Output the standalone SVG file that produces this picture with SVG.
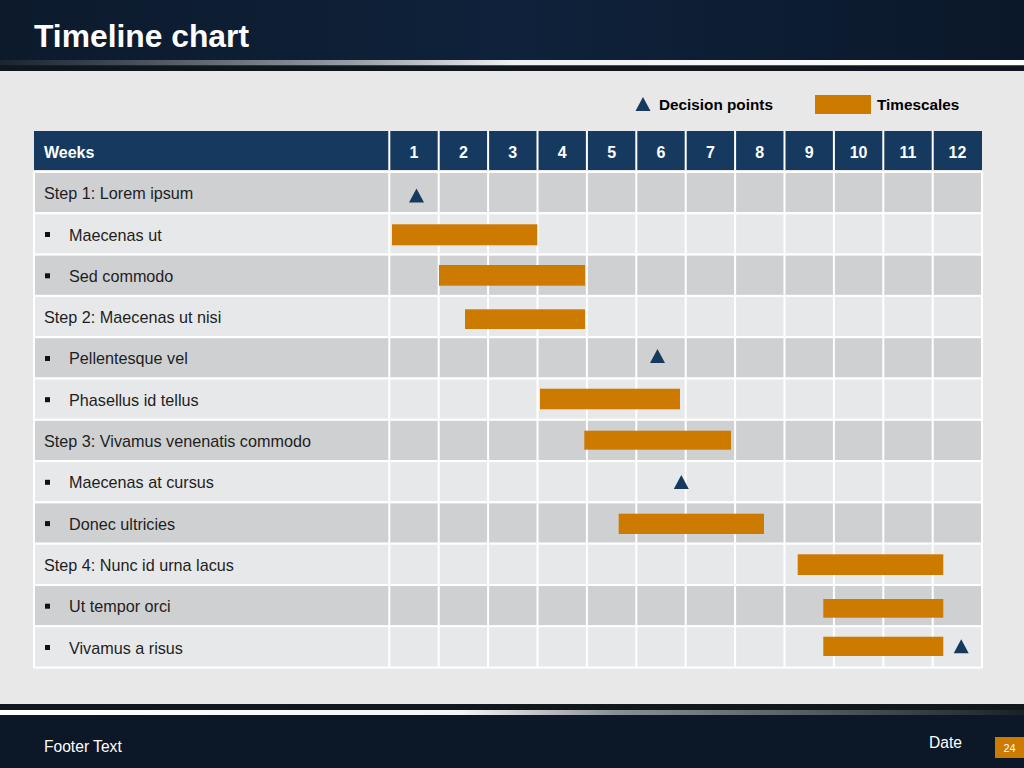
<svg xmlns="http://www.w3.org/2000/svg" width="1024" height="768" viewBox="0 0 1024 768">
<defs>
<linearGradient id="hdr" x1="0" y1="0" x2="1" y2="0">
<stop offset="0" stop-color="#0c1a2c"/><stop offset="0.5" stop-color="#0f223b"/><stop offset="1" stop-color="#0b1829"/>
</linearGradient>
<linearGradient id="line1" x1="0" y1="0" x2="1" y2="0">
<stop offset="0" stop-color="#1a2330"/><stop offset="0.1" stop-color="#3a4350"/><stop offset="0.35" stop-color="#9aa0a8"/><stop offset="0.5" stop-color="#eef0f2"/><stop offset="1" stop-color="#ffffff"/>
</linearGradient>
<linearGradient id="line2" x1="0" y1="0" x2="1" y2="0">
<stop offset="0" stop-color="#ffffff"/><stop offset="0.45" stop-color="#f4f4f4"/><stop offset="0.6" stop-color="#8a9098"/><stop offset="0.95" stop-color="#2a3038"/><stop offset="1" stop-color="#1a2028"/>
</linearGradient>
<polygon id="tri" points="0,-7 7.5,7 -7.5,7"/>
</defs>
<style>
.title{font-family:"Liberation Sans",Arial,sans-serif;font-weight:bold;font-size:31.8px;fill:#ffffff}
.leg{font-family:"Liberation Sans",Arial,sans-serif;font-weight:bold;font-size:15.3px;fill:#000000}
.hd{font-family:"Liberation Sans",Arial,sans-serif;font-weight:bold;font-size:16px;fill:#ffffff}
.lbl{font-family:"Liberation Sans",Arial,sans-serif;font-size:16.2px;fill:#1e1e1e}
.foot{font-family:"Liberation Sans",Arial,sans-serif;font-size:15.6px;fill:#ffffff}
.dark{fill:#cfd0d2}
.light{fill:#e7e8e9}
.cell{stroke:#ffffff;stroke-width:2}
.bar{fill:#cc7a00}
.dp{fill:#153a5e}
.grid{stroke:#ffffff;stroke-width:2}
</style>
<rect x="0" y="0" width="1024" height="768" fill="#e8e8e8"/>
<g id="header">
<rect x="0" y="0" width="1024" height="71" fill="url(#hdr)"/>
<rect x="0" y="60" width="1024" height="5.5" fill="url(#line1)"/>
<rect x="0" y="65.5" width="1024" height="5.5" fill="#10161e"/>
<text class="title" x="34" y="47">Timeline chart</text>
</g>
<g id="legend">
<use href="#tri" x="643" y="104" class="dp"/>
<text class="leg" x="659" y="110">Decision points</text>
<rect x="815" y="95" width="56" height="19" class="bar"/>
<text class="leg" x="877" y="110">Timescales</text>
</g>
<g id="table-header">
<rect x="34" y="131" width="948" height="39" fill="#163a5f"/>
<g class="grid">
<line x1="389.3" y1="131" x2="389.3" y2="170"/><line x1="438.7" y1="131" x2="438.7" y2="170"/><line x1="488.1" y1="131" x2="488.1" y2="170"/><line x1="537.5" y1="131" x2="537.5" y2="170"/><line x1="586.9" y1="131" x2="586.9" y2="170"/><line x1="636.3" y1="131" x2="636.3" y2="170"/><line x1="685.7" y1="131" x2="685.7" y2="170"/><line x1="735.1" y1="131" x2="735.1" y2="170"/><line x1="784.5" y1="131" x2="784.5" y2="170"/><line x1="833.9" y1="131" x2="833.9" y2="170"/><line x1="883.3" y1="131" x2="883.3" y2="170"/><line x1="932.7" y1="131" x2="932.7" y2="170"/>
</g>
<text class="hd" x="44" y="158">Weeks</text>
<g class="hd" text-anchor="middle">
<text x="414" y="158">1</text><text x="463.4" y="158">2</text><text x="512.8" y="158">3</text><text x="562.2" y="158">4</text><text x="611.6" y="158">5</text><text x="661" y="158">6</text><text x="710.4" y="158">7</text><text x="759.8" y="158">8</text><text x="809.2" y="158">9</text><text x="858.6" y="158">10</text><text x="908" y="158">11</text><text x="957.4" y="158">12</text>
</g>
</g>
<g id="rows">
<rect class="dark cell" x="34" y="172" width="948" height="41.3"/>
<rect class="light cell" x="34" y="213.3" width="948" height="41.3"/>
<rect class="dark cell" x="34" y="254.6" width="948" height="41.3"/>
<rect class="light cell" x="34" y="295.9" width="948" height="41.3"/>
<rect class="dark cell" x="34" y="337.2" width="948" height="41.3"/>
<rect class="light cell" x="34" y="378.5" width="948" height="41.3"/>
<rect class="dark cell" x="34" y="419.8" width="948" height="41.3"/>
<rect class="light cell" x="34" y="461.1" width="948" height="41.3"/>
<rect class="dark cell" x="34" y="502.4" width="948" height="41.3"/>
<rect class="light cell" x="34" y="543.7" width="948" height="41.3"/>
<rect class="dark cell" x="34" y="585" width="948" height="41.3"/>
<rect class="light cell" x="34" y="626.3" width="948" height="41.3"/>
<g class="grid">
<line x1="389.3" y1="172" x2="389.3" y2="667.6"/><line x1="438.7" y1="172" x2="438.7" y2="667.6"/><line x1="488.1" y1="172" x2="488.1" y2="667.6"/><line x1="537.5" y1="172" x2="537.5" y2="667.6"/><line x1="586.9" y1="172" x2="586.9" y2="667.6"/><line x1="636.3" y1="172" x2="636.3" y2="667.6"/><line x1="685.7" y1="172" x2="685.7" y2="667.6"/><line x1="735.1" y1="172" x2="735.1" y2="667.6"/><line x1="784.5" y1="172" x2="784.5" y2="667.6"/><line x1="833.9" y1="172" x2="833.9" y2="667.6"/><line x1="883.3" y1="172" x2="883.3" y2="667.6"/><line x1="932.7" y1="172" x2="932.7" y2="667.6"/>
</g>
</g>
<g id="labels">
<g id="row1"><text class="lbl" x="44" y="199">Step 1: Lorem ipsum</text></g>
<g id="row2"><rect x="45" y="232" width="5" height="5" fill="#111"/><text class="lbl" x="69" y="240.5">Maecenas ut</text></g>
<g id="row3"><rect x="45" y="273.3" width="5" height="5" fill="#111"/><text class="lbl" x="69" y="281.8">Sed commodo</text></g>
<g id="row4"><text class="lbl" x="44" y="323">Step 2: Maecenas ut nisi</text></g>
<g id="row5"><rect x="45" y="356" width="5" height="5" fill="#111"/><text class="lbl" x="69" y="364.4">Pellentesque vel</text></g>
<g id="row6"><rect x="45" y="397.2" width="5" height="5" fill="#111"/><text class="lbl" x="69" y="405.7">Phasellus id tellus</text></g>
<g id="row7"><text class="lbl" x="44" y="447">Step 3: Vivamus venenatis commodo</text></g>
<g id="row8"><rect x="45" y="479.8" width="5" height="5" fill="#111"/><text class="lbl" x="69" y="488.3">Maecenas at cursus</text></g>
<g id="row9"><rect x="45" y="521.1" width="5" height="5" fill="#111"/><text class="lbl" x="69" y="529.6">Donec ultricies</text></g>
<g id="row10"><text class="lbl" x="44" y="571">Step 4: Nunc id urna lacus</text></g>
<g id="row11"><rect x="45" y="603.7" width="5" height="5" fill="#111"/><text class="lbl" x="69" y="612.2">Ut tempor orci</text></g>
<g id="row12"><rect x="45" y="645" width="5" height="5" fill="#111"/><text class="lbl" x="69" y="653.5">Vivamus a risus</text></g>
</g>
<g id="timescales">
<rect class="bar" x="392" y="224.3" width="145.3" height="21"/>
<rect class="bar" x="439" y="265" width="146" height="20.7"/>
<rect class="bar" x="465" y="309.3" width="120" height="19.7"/>
<rect class="bar" x="540" y="388.7" width="140" height="20.6"/>
<rect class="bar" x="584.3" y="430.7" width="146.7" height="19"/>
<rect class="bar" x="618.7" y="513.7" width="145.3" height="20.3"/>
<rect class="bar" x="797.7" y="554.3" width="145.6" height="20.7"/>
<rect class="bar" x="823.3" y="599" width="120" height="18.7"/>
<rect class="bar" x="823.3" y="636.7" width="120" height="19.3"/>
</g>
<g id="decision-points">
<use href="#tri" x="416.5" y="195.5" class="dp"/>
<use href="#tri" x="657.5" y="356" class="dp"/>
<use href="#tri" x="681.3" y="482" class="dp"/>
<use href="#tri" x="961.2" y="646.3" class="dp"/>
</g>
<g id="footer">
<rect x="0" y="704" width="1024" height="64" fill="#0c1828"/>
<rect x="0" y="704" width="1024" height="6" fill="#12171e"/>
<rect x="0" y="710" width="1024" height="5" fill="url(#line2)"/>
<text class="foot" x="44" y="752">Footer Text</text>
<text class="foot" x="929" y="748">Date</text>
<rect x="995" y="737" width="29" height="21" fill="#cc7a00"/>
<text x="1009.5" y="751.5" text-anchor="middle" style="font-family:'Liberation Sans',Arial,sans-serif;font-size:11px;fill:#ffffff">24</text>
</g>
</svg>
